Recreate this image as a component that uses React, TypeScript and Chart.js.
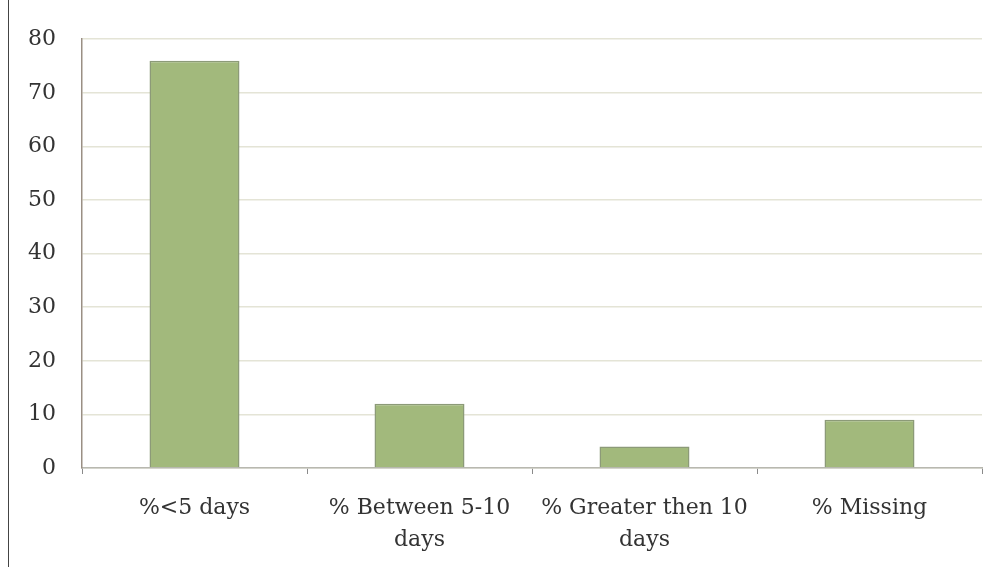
import React, { useEffect, useRef } from "react";
import { Chart, registerables } from "chart.js";

Chart.register(...registerables);

const categories: (string | string[])[] = [
  "%<5 days",
  ["% Between 5-10", "days"],
  ["% Greater then 10", "days"],
  "% Missing",
];
const percentages: number[] = [76, 12, 4, 9];
const yTicks: number[] = [0, 10, 20, 30, 40, 50, 60, 70, 80];

const FONT = "'DejaVu Serif', 'Liberation Serif', serif";

export default function App() {
  const canvasRef = useRef<HTMLCanvasElement | null>(null);

  useEffect(() => {
    if (!canvasRef.current) return;
    const chart = new Chart(canvasRef.current, {
      type: "bar",
      data: {
        labels: categories,
        datasets: [
          {
            data: percentages,
            backgroundColor: "#a2b97c",
            borderColor: "#8c9a78",
            borderWidth: 1.5,
            categoryPercentage: 0.8,
            barPercentage: 0.5,
          },
        ],
      },
      options: {
        animation: false,
        responsive: false,
        devicePixelRatio: 1,
        layout: { padding: { left: 0, right: 26, top: 38, bottom: 0 } },
        plugins: { legend: { display: false }, tooltip: { enabled: false } },
        scales: {
          x: {
            grid: {
              drawOnChartArea: false,
              drawTicks: true,
              tickLength: 6,
              color: "#8a8a8a",
            },
            border: { color: "#b8b8b0", width: 1.5 },
            ticks: {
              color: "#333333",
              font: { family: FONT, size: 22, lineHeight: 1.45 },
              padding: 18,
              maxRotation: 0,
              autoSkip: false,
            },
            afterFit: (s: any) => {
              s.height = 567 - 468;
            },
          },
          y: {
            min: 0,
            max: 80,
            afterBuildTicks: (s: any) => {
              s.ticks = yTicks.map((v) => ({ value: v }));
            },
            grid: {
              drawTicks: false,
              color: "#e4e4d6",
              lineWidth: 1.5,
            },
            border: { color: "#9a8f84", width: 1.5 },
            ticks: {
              color: "#333333",
              font: { family: FONT, size: 22 },
              padding: 26,
            },
            afterFit: (s: any) => {
              s.width = 82;
            },
          },
        },
      },
    });
    return () => chart.destroy();
  }, []);

  return (
    <div
      style={{
        position: "fixed",
        left: 0,
        top: 0,
        width: 1008,
        height: 567,
        background: "#ffffff",
      }}
    >
      <div
        style={{
          position: "absolute",
          left: 8,
          top: 0,
          width: 1,
          height: 567,
          background: "#444",
        }}
      />
      <canvas
        ref={canvasRef}
        width={1008}
        height={567}
        style={{ position: "absolute", left: 0, top: 0 }}
      />
    </div>
  );
}
